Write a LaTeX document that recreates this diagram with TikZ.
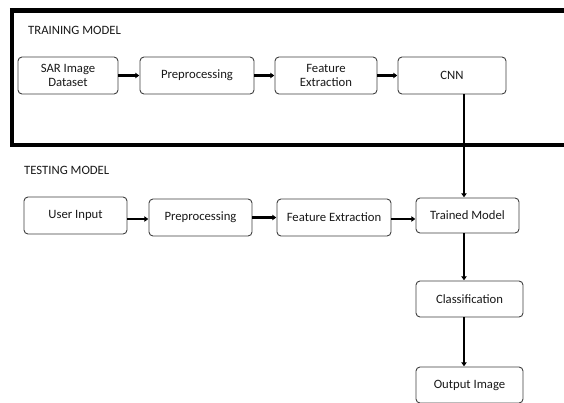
\documentclass[tikz,border=0pt]{standalone}
\usepackage{fontspec}
\setmainfont{Carlito}
\usetikzlibrary{arrows.meta}
\begin{document}
\begin{tikzpicture}[x=1pt,y=-1pt,
  box/.style={draw=black!75,line width=0.9pt,rounded corners=4pt,fill=white,
    align=center,font=\fontsize{12.7}{14}\selectfont,text=black!90,
    inner sep=0pt,minimum height=37pt},
  flow/.style={line width=2.6pt,-{Triangle[length=4pt,width=5.5pt]},shorten >=0.3pt},
  lbl/.style={font=\fontsize{12.7}{14}\selectfont,text=black!90,anchor=west,inner sep=0pt}]
\useasboundingbox (0,0) rectangle (564,402);
\clip (0,0) rectangle (564,402);
\fill[white] (0,0) rectangle (564,402);
% training frame
\draw[line width=4.5pt] (12,10.5) -- (12,145) -- (600,145);
\draw[line width=4.5pt] (9.75,10.5) -- (600,10.5);
\node[lbl] (trl) at (28,30) {TRAINING MODEL};
\node[lbl] (tel) at (24,170) {TESTING MODEL};
% training row
\node[box,minimum width=100pt] (sar) at (68,75.5) {SAR Image\\Dataset};
\node[box,minimum width=114pt] (pre1) at (197,75.5) {Preprocessing};
\node[box,minimum width=102pt] (fe1) at (326,75.5) {Feature\\Extraction};
\node[box,minimum width=108pt] (cnn) at (452,75.5) {CNN};
% testing row
\node[box,minimum width=103pt] (ui) at (75.5,215.5) {User Input};
\node[box,minimum width=103pt] (pre2) at (200.5,217.5) {Preprocessing};
\node[box,minimum width=114pt] (fe2) at (334,217.5) {Feature Extraction};
\node[box,minimum width=103pt,minimum height=35pt] (tm) at (467.5,215.5) {Trained Model};
\node[box,minimum width=107pt,minimum height=36pt] (cls) at (469.5,299) {Classification};
\node[box,minimum width=107pt,minimum height=36pt] (out) at (469.5,385) {Output Image};
\coordinate (col) at (464,0);
% arrows
\draw[flow] (sar) -- (pre1);
\draw[flow] (pre1) -- (fe1);
\draw[flow,line width=3.2pt] (fe1) -- (cnn);
\draw[flow] (ui.east |- 0,219) -- (pre2.west |- 0,219);
\draw[flow] (pre2) -- (fe2);
\draw[flow] (fe2.east |- 0,219) -- (tm.west |- 0,219);
\draw[flow] (cnn.south -| col) -- (tm.north -| col);
\draw[flow] (tm.south -| col) -- (cls.north -| col);
\draw[flow] (cls.south -| col) -- (out.north -| col);
\end{tikzpicture}
\end{document}
